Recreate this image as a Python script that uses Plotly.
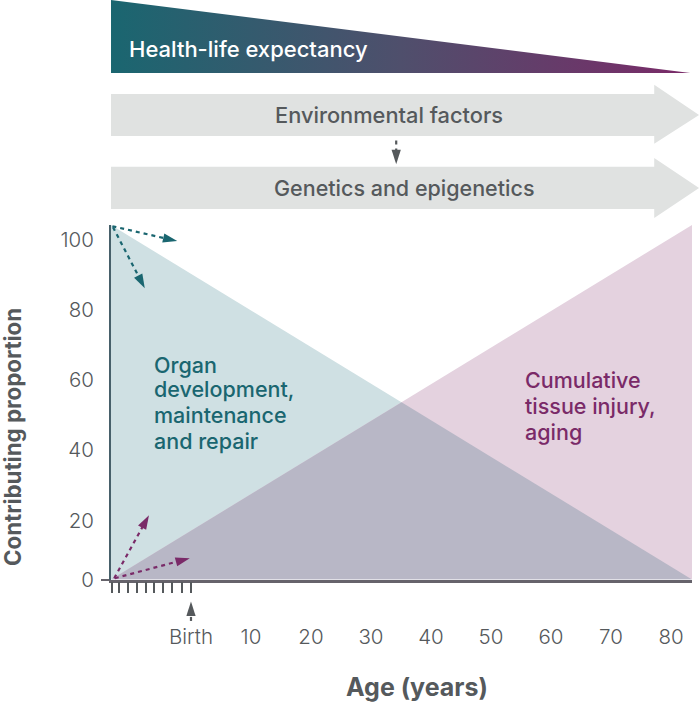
import plotly.graph_objects as go

FONT = "Inter"
TEAL = "#1a6670"
PURPLE = "#7a2a68"
GREY = "#55595c"
BAND = "#e0e2e1"

# main chart, x = age in years (birth = 0), y = contributing proportion
age_start = -13.33
age_end = 83.5
prop_top = 104.5
organ_x = [age_start, age_end, age_start]
organ_y = [prop_top, 0, 0]
injury_x = [age_start, age_end, age_end]
injury_y = [0, prop_top, 0]
overlap_x = [age_start, 35.1, age_end]
overlap_y = [0, 52.25, 0]

age_ticks = [0, 10, 20, 30, 40, 50, 60, 70, 80]
age_labels = ["Birth", "10", "20", "30", "40", "50", "60", "70", "80"]
prenatal_ticks = [-13.2, -12, -10.5, -9, -7.5, -6.1, -4.6, -3.1, -1.55, 0]
# the printed scale is uneven: the gap from 0 to 20 is shorter than the others
prop_ticks = [0, 17.4, 38.2, 58.8, 79.5, 100]
prop_labels = ["0", "20", "40", "60", "80", "100"]

# bands above the chart, same scales carried on up the page
health_x = [age_start, 83.2, age_start]
health_y = [170.9, 149.4, 149.4]
env_x = [age_start, 77.2, 77.2, 84.67, 77.2, 77.2, age_start]
env_y = [143.2, 143.2, 145.9, 137.0, 128.5, 130.8, 130.8]
gen_x = [age_start, 77.2, 77.2, 84.67, 77.2, 77.2, age_start]
gen_y = [121.7, 121.7, 124.3, 115.5, 106.6, 109.3, 109.3]

# dashed arrows: (x, y, colour)
arrows = [
    ([-13.1, -2.3], [104.2, 99.8], TEAL),
    ([-13.0, -7.7], [103.9, 85.9], TEAL),
    ([-12.8, -7.0], [0.4, 19.0], PURPLE),
    ([-12.7, -0.2], [0.4, 6.3], PURPLE),
    ([34.2, 34.2], [129.5, 122.5], GREY),
    ([0, 0], [-12.2, -6.5], GREY),
]

organ_lines = ["Organ", "development,", "maintenance", "and repair"]
organ_line_y = [365, 389, 415, 441]
injury_lines = ["Cumulative", "tissue injury,", "aging"]
injury_line_y = [380, 406, 432]


def px_x(p):
    return p / 700


def px_y(p):
    return 1 - p / 702


fig = go.Figure()
fig.add_trace(go.Scatter(x=organ_x, y=organ_y, fill="toself", fillcolor="#cfe0e3",
                         mode="none", showlegend=False))
fig.add_trace(go.Scatter(x=injury_x, y=injury_y, fill="toself", fillcolor="#e4d2df",
                         mode="none", showlegend=False))
fig.add_trace(go.Scatter(x=overlap_x, y=overlap_y, fill="toself", fillcolor="#b8b7c6",
                         mode="none", showlegend=False))

fig.add_trace(go.Scatter(x=health_x, y=health_y, xaxis="x2", yaxis="y2", fill="toself",
                         mode="none", showlegend=False,
                         fillgradient=dict(type="horizontal",
                                           colorscale=[[0, TEAL], [0.5, "#4f4f6c"], [1, PURPLE]])))
fig.add_trace(go.Scatter(x=env_x, y=env_y, xaxis="x2", yaxis="y2", fill="toself",
                         fillcolor=BAND, mode="none", showlegend=False))
fig.add_trace(go.Scatter(x=gen_x, y=gen_y, xaxis="x2", yaxis="y2", fill="toself",
                         fillcolor=BAND, mode="none", showlegend=False))

for ax, ay, col in arrows:
    fig.add_trace(go.Scatter(x=ax, y=ay, xaxis="x2", yaxis="y2", mode="lines+markers",
                             line=dict(color=col, width=2.2, dash="4px,4px"),
                             marker=dict(symbol="arrow", size=[0, 15], color=col, opacity=1,
                                         angleref="previous", line=dict(width=0)),
                             showlegend=False))


def label(text, x, y, size=21.5, color=GREY, weight=500, anchor="center", angle=0):
    fig.add_annotation(text=text, xref="paper", yref="paper", x=px_x(x), y=px_y(y),
                       showarrow=False, xanchor=anchor, yanchor="middle", align="left",
                       textangle=angle, font=dict(family=FONT, size=size, color=color, weight=weight))


label("Health-life expectancy", 127, 49, size=22, color="white", anchor="left")
label("Environmental factors", 389, 115, size=21.8)
label("Genetics and epigenetics", 404, 188)
for line, ly in zip(organ_lines, organ_line_y):
    label(line, 152, ly, color=TEAL, anchor="left")
for line, ly in zip(injury_lines, injury_line_y):
    label(line, 523, ly, color=PURPLE, anchor="left")
label("Contributing proportion", 12, 437, size=22.3, weight=700, angle=-90)
label("Age (years)", 417, 687, size=25, weight=700)

fig.update_layout(
    width=700, height=702, margin=dict(l=0, r=0, t=0, b=0),
    paper_bgcolor="white", plot_bgcolor="rgba(0,0,0,0)",
    font=dict(family=FONT, color=GREY),
    xaxis=dict(domain=[px_x(111), px_x(692)], range=[age_start, age_end], automargin=False,
               tickvals=age_ticks, ticktext=age_labels, ticks="", ticklabelstandoff=37,
               tickfont=dict(size=20.5, color=GREY, weight=300),
               showgrid=False, zeroline=False, showline=True, linecolor="#66636b", linewidth=2.5,
               minor=dict(tickvals=prenatal_ticks, ticks="outside", ticklen=11, tickwidth=1.5,
                          tickcolor="#55595c", showgrid=False)),
    yaxis=dict(domain=[px_y(579.5), px_y(225)], range=[0, prop_top], automargin=False,
               tickvals=prop_ticks, ticktext=prop_labels, ticks="", ticklabelstandoff=11,
               tickfont=dict(size=20.5, color=GREY, weight=300),
               showgrid=False, zeroline=False, showline=True, linecolor="#47606a", linewidth=2,
               minor=dict(tickvals=[0], ticks="outside", ticklen=8, tickwidth=2,
                          tickcolor="#66636b", showgrid=False)),
    xaxis2=dict(domain=[0, 1], range=[-31.83, 84.83], anchor="y2", visible=False),
    yaxis2=dict(domain=[0, 1], range=[-36.1, 170.9], anchor="x2", visible=False),
)

fig.write_html("out.html", config={"displayModeBar": False},
               post_script="document.body.style.margin='0';")
